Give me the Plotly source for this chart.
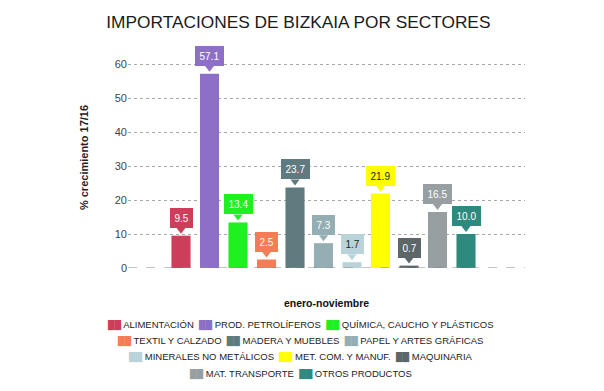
import plotly.graph_objects as go

categories = ["ALIMENTACIÓN", "PROD. PETROLÍFEROS", "QUÍMICA, CAUCHO Y PLÁSTICOS",
              "TEXTIL Y CALZADO", "MADERA Y MUEBLES", "PAPEL Y ARTES GRÁFICAS",
              "MINERALES NO METÁLICOS", "MET. COM. Y MANUF.", "MAQUINARIA",
              "MAT. TRANSPORTE", "OTROS PRODUCTOS"]
values = [9.5, 57.1, 13.4, 2.5, 23.7, 7.3, 1.7, 21.9, 0.7, 16.5, 10.0]
colors = ["#CD3E5B", "#8D6FC7", "#1FF01F", "#F47C56", "#5F7B80", "#94AEB4",
          "#BAD3DA", "#FFFF00", "#5D676A", "#989FA2", "#2E897F"]
label_colors = ["white", "white", "white", "white", "white", "white",
                "#222222", "#222222", "white", "white", "white"]
legend_rows = [[0, 1, 2], [3, 4, 5], [6, 7, 8], [9, 10]]
y_ticks = [0, 10, 20, 30, 40, 50, 60]

FONT = "Liberation Sans, Arial, sans-serif"
Y_MAX = 65
PLOT_H = 221
POINTER_PX = 6  # pointer centre above bar top, in pixels

fig = go.Figure()
for i, (cat, val, col) in enumerate(zip(categories, values, colors)):
    fig.add_trace(go.Bar(
        x=[i], y=[val], name=cat, width=0.67,
        marker=dict(color=col, line=dict(width=0)),
        showlegend=False,
    ))
    # callout box
    fig.add_annotation(
        x=i, y=val, xref="x", yref="y", text="%.1f" % val,
        showarrow=False, yanchor="bottom", yshift=8,
        bgcolor=col, borderpad=4.5, bordercolor=col, borderwidth=0,
        font=dict(family=FONT, size=10, color=label_colors[i]),
    )

# callout pointers
fig.add_trace(go.Scatter(
    x=list(range(len(values))),
    y=[v + POINTER_PX * Y_MAX / PLOT_H for v in values],
    mode="markers", showlegend=False, hoverinfo="skip", cliponaxis=False,
    marker=dict(symbol="triangle-down", size=8, color=colors, line=dict(width=0)),
))

# dashed zero baseline
fig.add_shape(type="line", xref="paper", yref="y", x0=0, x1=1, y0=0, y1=0,
              line=dict(color="#8a8a8a", width=1.2, dash="dash"), layer="above")

# legend rows (centred, as in the original)
row_pix = [324.5, 341, 357, 373.5]
for r, idxs in enumerate(legend_rows):
    parts = []
    for k in idxs:
        parts.append('<span style="color:%s;font-family:\'DejaVu Sans\';font-size:8.5px">██</span> %s'
                     % (colors[k], categories[k]))
    fig.add_annotation(
        x=(300 - 128) / 397, y=(268 - row_pix[r]) / PLOT_H, xref="paper", yref="paper",
        xanchor="center", yanchor="middle", showarrow=False,
        text="&nbsp;&nbsp;".join(parts),
        font=dict(family=FONT, size=9.5, color="#222222"),
    )

fig.update_layout(
    width=604, height=391,
    margin=dict(l=128, r=79, t=47, b=123, autoexpand=False),
    paper_bgcolor="white", plot_bgcolor="white",
    font=dict(family=FONT, color="#333333"),
    title=dict(text="IMPORTACIONES DE BIZKAIA POR SECTORES",
               x=0.494, xanchor="center", y=1 - 22 / 391, yanchor="middle",
               font=dict(family=FONT, size=17.3, color="#1a1a1a")),
    barmode="overlay",
    showlegend=False,
    xaxis=dict(range=[-1.86, 12.07], showticklabels=False, showgrid=False,
               zeroline=False, showline=False, ticks="", automargin=False,
               title=dict(text="<b>enero-noviembre</b>", standoff=31,
                          font=dict(family=FONT, size=10.5, color="#111111"))),
    yaxis=dict(range=[0, Y_MAX], tickvals=y_ticks, showgrid=True,
               gridcolor="#a8a8a8", griddash="dot", gridwidth=1,
               zeroline=False, showline=False, ticks="", automargin=False,
               tickfont=dict(family=FONT, size=11, color="#444444"),
               title=dict(text="<b>% crecimiento 17/16</b>", standoff=23,
                          font=dict(family=FONT, size=11, color="#222222"))),
)

fig.write_html("out.html", config={"displayModeBar": False},
               post_script="document.body.style.margin='0px';")
